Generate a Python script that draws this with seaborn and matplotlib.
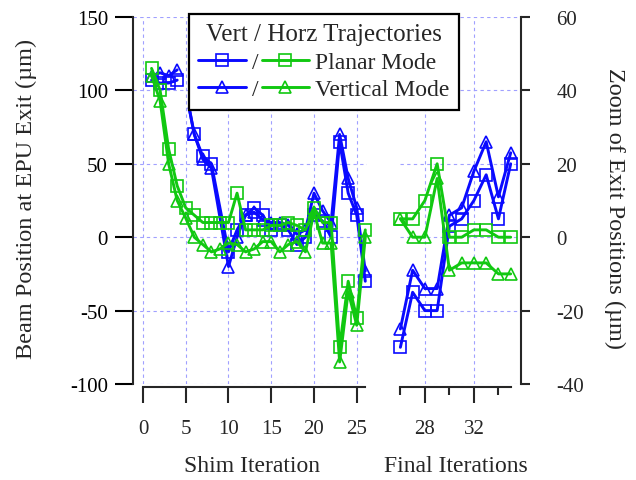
import numpy as np
import pandas as pd
import matplotlib
matplotlib.use("Agg")
import matplotlib.pyplot as plt
import seaborn as sns
from matplotlib.lines import Line2D

# ---------------- data ----------------
shim_x_early = [1, 2, 3, 4]
blue_sq_early = [107, 105, 105, 107]
blue_tri_early = [110, 112, 110, 114]

# first point of this blue run sits under the legend corner (marker not drawn)
shim_x_blue = [5.4, 6, 7, 8, 10, 11, 12, 13, 14, 15, 16, 17, 18, 19, 20, 21, 22, 23, 24, 25, 26]
blue_sq = [88, 70, 55, 50, -10, 5, 15, 20, 15, 5, 8, 5, -5, 0, 15, 11, 0, 65, 30, 15, -30]
blue_tri = [88, 70, 53, 47, -20, 0, 15, 17, 12, 10, 10, 8, 2, 5, 30, 18, 10, 70, 40, 20, -23]

shim_x = list(range(1, 27))
green_sq = [115, 100, 60, 35, 20, 15, 10, 10, 10, 10, 30, 5, 5, 5, 8, 8, 10, 8, 5, 20, 10, 10, -75, -30, -55, 5]
green_tri = [110, 93, 50, 25, 13, 0, -5, -10, -8, -4, -5, -10, -8, -3, -3, -10, -5, -3, -10, 17, -4, -4, -85, -37, -60, 0]

final_x = list(range(26, 36))
final_blue_sq = [-30, -15, -20, -20, 3, 5, 10, 17, 5, 20]
final_blue_tri = [-25, -9, -14, -14, 6, 8, 18, 26, 11, 23]
final_green_sq = [5, 5, 10, 20, 0, 0, 2, 2, 0, 0]
final_green_tri = [5, 0, 0, 16, -9, -7, -7, -7, -10, -10]

left_yticks = [-100, -50, 0, 50, 100, 150]
left_xticks = [0, 5, 10, 15, 20, 25]
right_yticks = [-40, -20, 0, 20, 40, 60]
right_xticks_major = [28, 32]
right_xticks_minor = [26, 30, 34]

BLUE = "#0a0aff"
GREEN = "#11c811"
GRID = "#a0a0ff"

# ---------------- style ----------------
sns.set_style("white")
plt.rcParams["font.family"] = ["Liberation Serif", "DejaVu Serif"]
plt.rcParams["axes.unicode_minus"] = False

W, H = 636, 481
fig = plt.figure(figsize=(W / 100, H / 100), dpi=100)

ax1 = fig.add_axes([133 / W, 1 - 385 / H, (367 - 133) / W, (385 - 18) / H])
ax2 = fig.add_axes([400 / W, 1 - 385 / H, (521 - 400) / W, (385 - 18) / H])

line_kw = dict(linewidth=2.1, markersize=8.5, markerfacecolor="none",
               markeredgewidth=1.2, sort=False, estimator=None,
               legend=False, clip_on=False)


def draw(ax, x, y, color, marker, skip_first=False):
    df = pd.DataFrame({"x": x, "y": y})
    extra = {}
    if skip_first:
        extra["markevery"] = list(range(1, len(x)))
    sns.lineplot(data=df, x="x", y="y", ax=ax, color=color, marker=marker,
                 markeredgecolor=color, **line_kw, **extra)


# left panel
draw(ax1, shim_x_early, blue_sq_early, BLUE, "s")
draw(ax1, shim_x_early, blue_tri_early, BLUE, "^")
draw(ax1, shim_x_blue, blue_sq, BLUE, "s", skip_first=True)
draw(ax1, shim_x_blue, blue_tri, BLUE, "^", skip_first=True)
draw(ax1, shim_x, green_sq, GREEN, "s")
draw(ax1, shim_x, green_tri, GREEN, "^")

# right panel
draw(ax2, final_x, final_blue_sq, BLUE, "s")
draw(ax2, final_x, final_blue_tri, BLUE, "^")
draw(ax2, final_x, final_green_sq, GREEN, "s")
draw(ax2, final_x, final_green_tri, GREEN, "^")

# ---------------- axes ----------------
ax1.set_xlim(-1.17, 26.2)
ax1.set_ylim(-100, 150)
ax1.set_xticks(left_xticks)
ax1.set_yticks(left_yticks)
ax2.set_xlim(25.97, 35.84)
ax2.set_ylim(-40, 60)
ax2.set_xticks(right_xticks_major)
ax2.set_xticks(right_xticks_minor, minor=True)
ax2.set_yticks(right_yticks)

for ax in (ax1, ax2):
    ax.set_facecolor("none")
    ax.set_axisbelow(True)
    ax.grid(True, which="major", color=GRID, linestyle=(0, (3, 3)), linewidth=0.8)
    ax.spines["top"].set_visible(False)
    ax.spines["bottom"].set_position(("outward", 2))
    ax.spines["bottom"].set_linewidth(1.5)

ax1.spines["right"].set_visible(False)
ax1.spines["left"].set_linewidth(1.5)
ax1.spines["bottom"].set_bounds(0, 26)
ax2.spines["left"].set_visible(False)
ax2.spines["right"].set_linewidth(1.5)
ax2.spines["bottom"].set_bounds(26, 35)
ax2.yaxis.tick_right()
ax2.yaxis.set_label_position("right")

ax1.tick_params(axis="y", direction="out", length=13, width=1.5, pad=5,
                labelsize=15, left=True, colors="black")
ax1.tick_params(axis="x", direction="out", length=11.5, width=1.5, pad=11.5,
                labelsize=15, bottom=True)
ax2.tick_params(axis="y", direction="out", length=6.5, width=1.5, pad=19,
                labelsize=15, right=True, left=False)
ax2.tick_params(axis="x", which="major", direction="out", length=11.5, width=1.5,
                pad=11.5, labelsize=15, bottom=True)
ax2.tick_params(axis="x", which="minor", direction="out", length=5.5, width=1.5,
                bottom=True)

ax1.set_ylabel("Beam Position at EPU Exit (µm)", fontsize=17.5, ha="center", va="center")
ax1.yaxis.set_label_coords((26 - 133) / 234, (385 - 199) / 367)
ax2.set_ylabel("Zoom of Exit Positions (µm)", fontsize=17.5, rotation=-90,
               ha="center", va="center")
ax2.yaxis.set_label_coords((615 - 400) / 121, (385 - 209) / 367)
ax1.set_xlabel("Shim Iteration", fontsize=17, ha="center", va="center")
ax1.xaxis.set_label_coords((252 - 133) / 234, (385 - 467) / 367)
ax2.set_xlabel("Final Iterations", fontsize=17, ha="center", va="center")
ax2.xaxis.set_label_coords((456 - 400) / 121, (385 - 467) / 367)

# ---------------- legend ----------------
mk = dict(linewidth=2.1, markersize=8.5, markerfacecolor="none", markeredgewidth=1.2)
handles = [
    Line2D([], [], color=BLUE, marker="s", markeredgecolor=BLUE, **mk),
    Line2D([], [], color=BLUE, marker="^", markeredgecolor=BLUE, **mk),
    Line2D([], [], color=GREEN, marker="s", markeredgecolor=GREEN, **mk),
    Line2D([], [], color=GREEN, marker="^", markeredgecolor=GREEN, **mk),
]
labels = ["/", "/", "Planar Mode", "Vertical Mode"]
leg = fig.legend(handles, labels, ncol=2, title="Vert / Horz Trajectories",
                 loc="upper left", bbox_to_anchor=(189 / W, 1 - 15 / H),
                 frameon=True, fancybox=False, edgecolor="black", framealpha=1,
                 fontsize=17, title_fontsize=18, handlelength=2.0,
                 handletextpad=0.25, columnspacing=0.15, borderpad=0.4,
                 labelspacing=0.25, borderaxespad=0)
leg.get_frame().set_linewidth(1.6)

fig.savefig("out.png", dpi=100)
